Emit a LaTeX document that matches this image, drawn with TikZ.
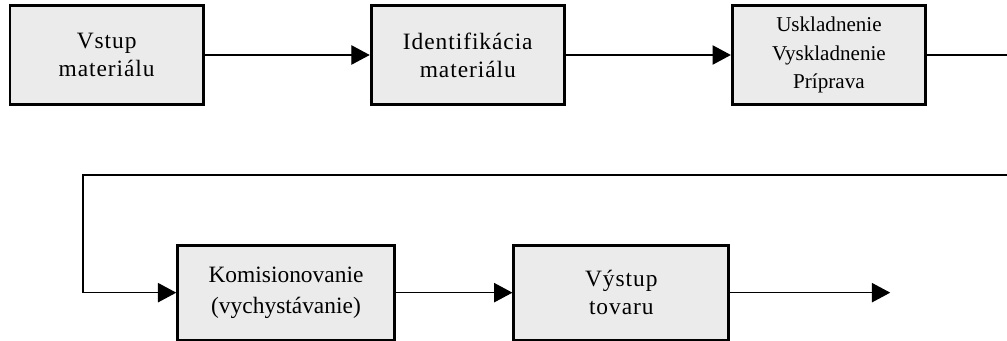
\documentclass[tikz,border=0pt]{standalone}
\usepackage{fontspec}
\newfontfamily\boxfont[LetterSpace=4]{Liberation Serif}
\newfontfamily\boxfonttight{Liberation Serif}
\usepackage{xcolor}
\usepackage{tikz}
\usetikzlibrary{positioning, arrows.meta, calc}

\definecolor{boxfill}{HTML}{EBEBEB}

\begin{document}
\begin{tikzpicture}[
    node distance=4.95cm,
    block/.style={rectangle, draw=black, fill=boxfill, line width=2.4pt, minimum width=5.8cm, minimum height=2.95cm, align=center, font=\boxfont\fontsize{20}{24}\selectfont},
    link/.style={line width=1pt},
    arrow/.style={-{Triangle[length=0.55cm, width=0.58cm]}, line width=1pt}
]
\useasboundingbox (0,0) rectangle (30.21,-10.23);

% Upper row
\node[block] (vstup) at (3.2,-1.65) {Vstup\\materiálu};
\node[block, right=of vstup] (ident) {Identifikácia\\materiálu};
\node[block, right=of ident, font=\boxfonttight\fontsize{18}{24}\selectfont] (sklad) {Uskladnenie\\Vyskladnenie\\Príprava};

% Lower row
\node[block, minimum width=6.5cm, minimum height=2.85cm, font=\boxfonttight\fontsize{20}{26}\selectfont] (komis) at (8.58,-8.78) {Komisionovanie\\(vychystávanie)};
\node[block, minimum width=6.45cm, minimum height=2.85cm, right=3.5cm of komis] (vystup) {Výstup\\tovaru};

% Loop coordinates
\coordinate (rightA) at (30.21,-1.65);
\coordinate (rightB) at (30.21,-5.25);
\coordinate (leftC) at (2.49,-5.25);
\coordinate[right=4.8cm of vystup.east] (out);

% Arrows
\draw[arrow] (vstup) -- (ident);
\draw[arrow] (ident) -- (sklad);
\draw[link] (sklad) -- (rightA);
\draw[arrow] (rightB) -- (leftC) |- (komis);
\draw[arrow] (komis) -- (vystup);
\draw[arrow] (vystup) -- (out);

\end{tikzpicture}
\end{document}
